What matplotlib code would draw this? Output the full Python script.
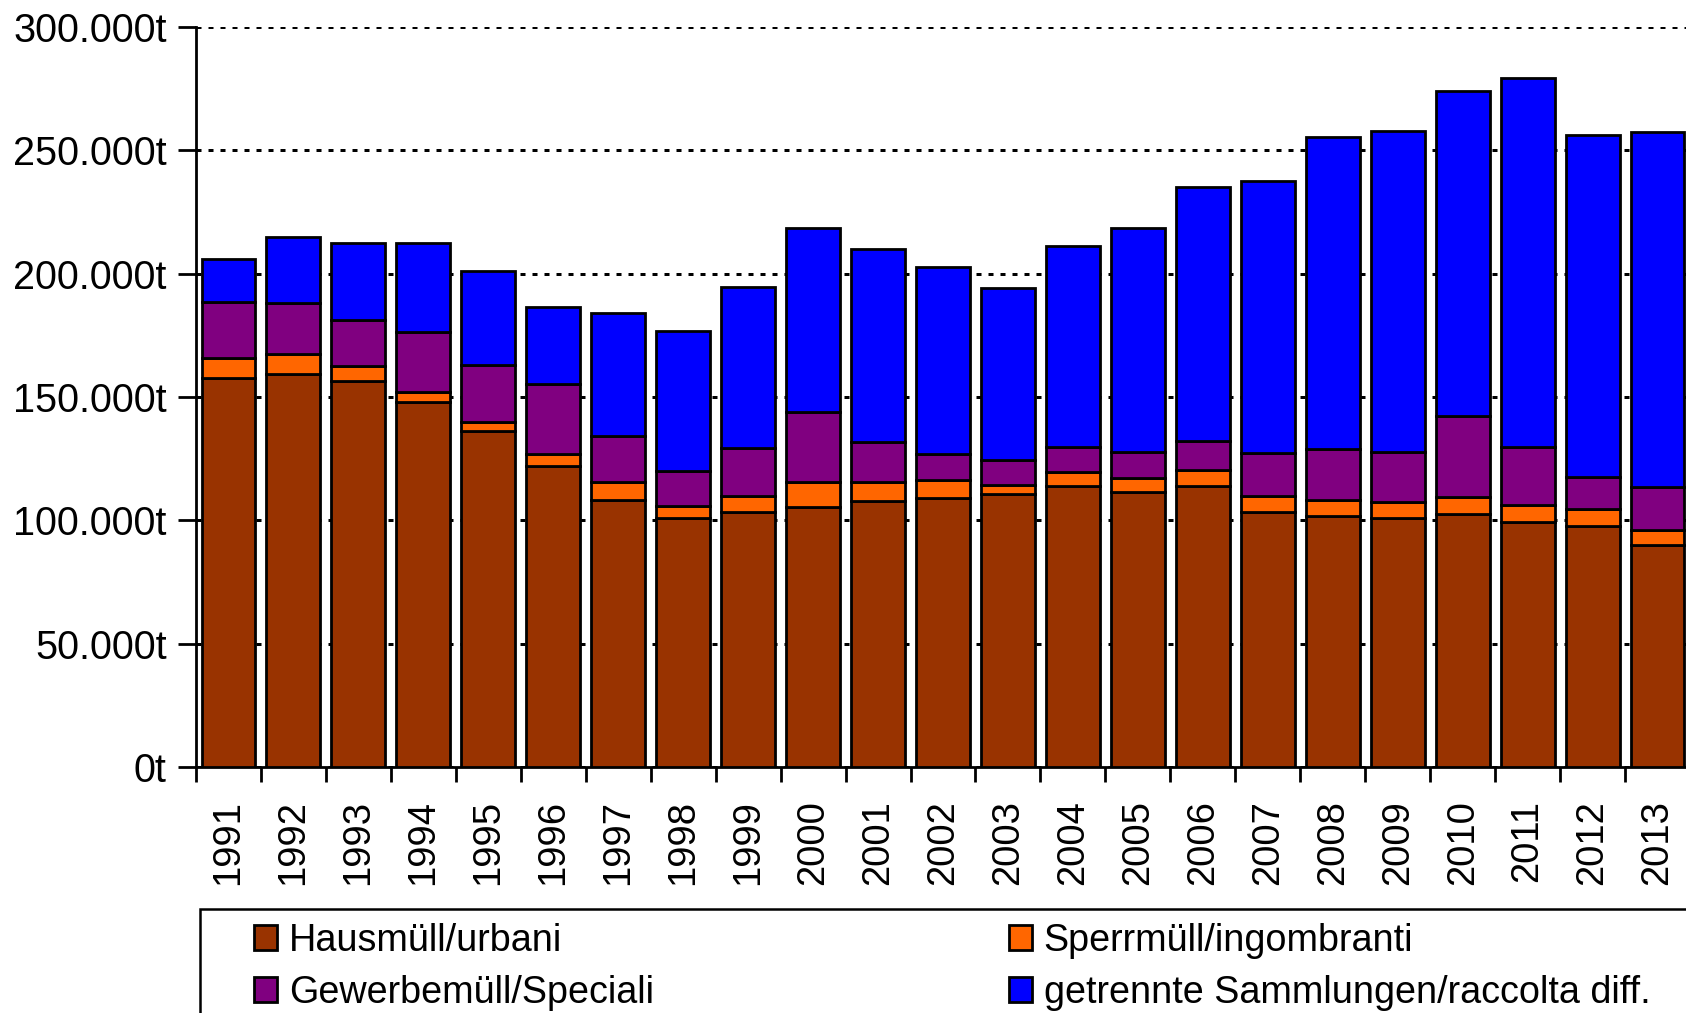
import matplotlib
matplotlib.use("Agg")
import matplotlib.pyplot as plt
from matplotlib.patches import Rectangle
from matplotlib.ticker import FuncFormatter, MultipleLocator, FixedLocator
import numpy as np

plt.rcParams['font.family'] = ['Liberation Sans', 'DejaVu Sans']

years = [str(y) for y in range(1991, 2014)]
hausmuell = [157.9, 159.5, 156.3, 148.0, 136.4, 122.2, 108.1, 100.8, 103.2, 105.5, 107.9, 108.9,
             110.5, 114.1, 111.5, 114.0, 103.5, 101.8, 101.0, 102.5, 99.4, 97.9, 89.8]
sperrmuell = [8.1, 8.0, 6.4, 4.0, 3.5, 4.6, 7.6, 5.1, 6.6, 10.2, 7.8, 7.4,
              4.0, 5.6, 5.6, 6.6, 6.5, 6.6, 6.5, 6.8, 6.7, 6.5, 6.4]
gewerbe = [22.7, 20.6, 18.7, 24.5, 22.9, 28.6, 18.6, 13.9, 19.6, 28.4, 16.1, 10.6,
           10.0, 9.9, 10.8, 11.6, 17.2, 20.5, 20.4, 33.1, 23.6, 13.0, 17.4]
getrennt = [17.1, 26.7, 31.1, 36.0, 38.2, 31.0, 49.7, 56.9, 65.2, 74.3, 78.3, 75.8,
            69.5, 81.8, 90.8, 103.0, 110.4, 126.5, 129.8, 131.5, 149.8, 138.7, 144.0]
labels = ["Hausmüll/urbani", "Sperrmüll/ingombranti", "Gewerbemüll/Speciali",
          "getrennte Sammlungen/raccolta diff."]
colors = ["#993300", "#FF6600", "#800080", "#0000FF"]

W, H = 1686, 1013
fig = plt.figure(figsize=(W / 100, H / 100), dpi=100)
ax_left, ax_right = 196, 1690
ax_top, ax_bottom = 27, 767
ax = fig.add_axes([ax_left / W, 1 - ax_bottom / H, (ax_right - ax_left) / W, (ax_bottom - ax_top) / H])

x = np.arange(len(years))
series = [np.array(hausmuell), np.array(sperrmuell), np.array(gewerbe), np.array(getrennt)]
bottom = np.zeros(len(years))
handles = []
for vals, col, lab in zip(series, colors, labels):
    b = ax.bar(x, vals * 1000, bottom=bottom * 1000, width=0.83, color=col,
               edgecolor="black", linewidth=2.0, label=lab, zorder=3)
    handles.append(b)
    bottom = bottom + vals

ax.set_xlim(-0.5, len(years) - 0.5)
ax.set_ylim(0, 300000)
ax.yaxis.set_major_locator(MultipleLocator(50000))
ax.yaxis.set_major_formatter(FuncFormatter(lambda v, p: f"{int(v):,}".replace(",", ".") + "t"))
ax.grid(axis='y', color='black', linestyle=(0, (1.67, 2.33)), linewidth=2.16, zorder=0)
ax.set_axisbelow(True)

ax.set_xticks(x)
ax.set_xticklabels(years, rotation=90, fontsize=27.5)
ax.xaxis.set_minor_locator(FixedLocator(np.arange(-0.5, len(years), 1.0)))
ax.tick_params(axis='x', which='major', length=0, pad=24)
ax.tick_params(axis='x', which='minor', length=11, width=2.0, direction='out')
ax.tick_params(axis='y', which='major', length=13, width=2.0, direction='out', pad=8, labelsize=28.5)

for s in ['top', 'right']:
    ax.spines[s].set_visible(False)
for s in ['left', 'bottom']:
    ax.spines[s].set_linewidth(2.0)

# legend frame
fig.patches.append(Rectangle((200 / W, -0.05), 1.0, 1 - 909 / H + 0.05, transform=fig.transFigure,
                             fill=False, edgecolor='black', linewidth=1.8))

leg_kw = dict(frameon=False, fontsize=27.2, handlelength=0.62, handleheight=0.62,
              handletextpad=0.3, labelspacing=0.42, borderpad=0, borderaxespad=0, loc='upper left')
fig.legend([handles[0], handles[2]], [labels[0], labels[2]],
           bbox_to_anchor=(254 / W, 1 - 923 / H), **leg_kw)
fig.legend([handles[1], handles[3]], [labels[1], labels[3]],
           bbox_to_anchor=(1009 / W, 1 - 923 / H), **leg_kw)

fig.savefig("out.png", dpi=100)
